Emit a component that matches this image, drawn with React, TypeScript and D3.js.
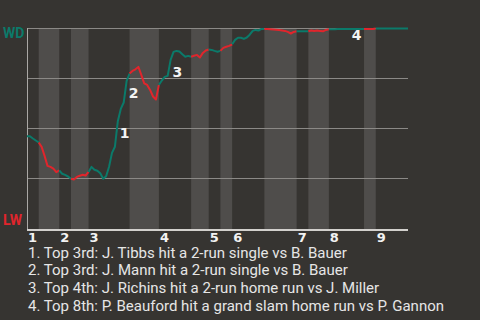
import React from "react";
import * as d3 from "d3";

// Plate appearances in each half-inning (top 1st, bottom 1st, ... top 9th)
const halfInningPlays = [4, 7, 4, 6, 14, 10, 11, 6, 4, 4, 11, 11, 4, 7, 12, 4, 11];

// Win probability for WD after each play (0 = LW wins, 1 = WD wins)
const winProb = [
  0.461, 0.461, 0.45, 0.44, 0.43, 0.408, 0.363, 0.313, 0.308, 0.299,
  0.282, 0.29, 0.274, 0.268, 0.26, 0.249, 0.245, 0.258, 0.264, 0.269,
  0.265, 0.283, 0.308, 0.294, 0.289, 0.276, 0.249, 0.261, 0.309, 0.378,
  0.409, 0.538, 0.598, 0.63, 0.738, 0.775, 0.788, 0.796, 0.808, 0.768,
  0.726, 0.718, 0.693, 0.66, 0.645, 0.718, 0.74, 0.758, 0.763, 0.843,
  0.883, 0.888, 0.885, 0.871, 0.859, 0.863, 0.859, 0.864, 0.868, 0.855,
  0.878, 0.89, 0.895, 0.893, 0.888, 0.884, 0.888, 0.903, 0.909, 0.913,
  0.921, 0.943, 0.954, 0.954, 0.948, 0.955, 0.969, 0.988, 0.993, 0.99,
  0.998, 0.998, 0.997, 0.996, 0.995, 0.994, 0.992, 0.99, 0.988, 0.983,
  0.975, 0.983, 0.986, 0.986, 0.986, 0.986, 0.986, 0.99, 0.988, 0.99,
  0.988, 0.986, 0.993, 0.996, 0.996, 0.996, 0.998, 0.998, 0.998, 0.998,
  0.998, 0.998, 0.998, 0.998, 0.998, 0.997, 0.997, 0.997, 0.997, 1.0,
  1.0, 1.0, 1.0, 1.0, 1.0, 1.0, 1.0, 1.0, 1.0, 1.0, 1.0,
];

const inningLabels = ["1", "2", "3", "4", "5", "6", "7", "8", "9"];

// Key plays, marked on the line by number
const keyPlayIndex = [31, 34, 49, 106];
const keyPlayMarks = ["1", "2", "3", "4"];
const keyPlayNotes = [
  "1. Top 3rd: J. Tibbs hit a 2-run single vs B. Bauer",
  "2. Top 3rd: J. Mann hit a 2-run single vs B. Bauer",
  "3. Top 4th: J. Richins hit a 2-run home run vs J. Miller",
  "4. Top 8th: P. Beauford hit a grand slam home run vs P. Gannon",
];

const gridTicks = [0.25, 0.5, 0.75, 1];

const W = 480;
const H = 320;
const BG = "#363431";
const BAND = "#4f4d4b";
const TEAL = "#0b7a6a";
const RED = "#e0252c";

// label offsets (px) from each key play's point
const markOffsets = [
  [2, 17.5],
  [2, 17.5],
  [2, 17.5],
  [14, 11.5],
];

export default function App() {
  const totalPlays = d3.sum(halfInningPlays);
  const x = d3.scaleLinear().domain([0, totalPlays]).range([27, 408]);
  const y = d3.scaleLinear().domain([0, 1]).range([228.5, 28.5]);

  const bounds = [0, ...d3.cumsum(halfInningPlays)];
  const halves = halfInningPlays.map((_, h) => ({
    h,
    start: bounds[h],
    end: bounds[h + 1],
  }));

  const segLine = d3
    .line<{ v: number; i: number }>()
    .x((p) => x(p.i))
    .y((p) => y(p.v));

  // one path per half-inning so each can take its batting team's colour
  const segments = halves.map(({ h, start, end }) => {
    const pts = winProb
      .map((v, i) => ({ v, i }))
      .filter((p) => p.i >= start && p.i <= end);
    return { h, path: segLine(pts) };
  });

  const plotTop = 28;
  const plotBottom = 229;

  return (
    <div style={{ position: "fixed", left: 0, top: 0, width: W, height: H, background: BG }}>
      <svg width={W} height={H} style={{ display: "block" }}>
        <rect x={0} y={0} width={W} height={H} fill={BG} />
        {halves
          .filter((d) => d.h % 2 === 1)
          .map((d) => (
            <rect
              key={d.h}
              x={x(d.start)}
              y={plotTop}
              width={x(d.end) - x(d.start)}
              height={plotBottom - plotTop}
              fill={BAND}
            />
          ))}
        {gridTicks.map((t) => (
          <line
            key={t}
            x1={27}
            x2={408}
            y1={Math.round(y(t)) - 0.5}
            y2={Math.round(y(t)) - 0.5}
            stroke="#8b8986"
            strokeWidth={1}
          />
        ))}
        <line x1={27.5} x2={27.5} y1={plotTop} y2={plotBottom} stroke="#aaa8a5" strokeWidth={1} />
        <line x1={27} x2={408} y1={230} y2={230} stroke="#d2d0cd" strokeWidth={2} />

        {segments.map((s) => (
          <path
            key={s.h}
            d={s.path || ""}
            fill="none"
            stroke={s.h % 2 === 0 ? TEAL : RED}
            strokeWidth={2}
            strokeLinejoin="round"
            strokeLinecap="butt"
          />
        ))}

        {keyPlayIndex.map((idx, k) => (
          <text
            key={k}
            x={x(idx) + markOffsets[k][0]}
            y={y(winProb[idx]) + markOffsets[k][1]}
            fill="#f4f4f4"
            fontFamily="DejaVu Sans"
            fontWeight="bold"
            fontSize={14}
          >
            {keyPlayMarks[k]}
          </text>
        ))}

        <text x={3} y={38.3} fill={TEAL} fontFamily="Roboto" fontWeight="bold" fontSize={14}>
          WD
        </text>
        <text x={3} y={225} fill={RED} fontFamily="Roboto" fontWeight="bold" fontSize={14}>
          LW
        </text>

        {inningLabels.map((lab, k) => (
          <text
            key={lab}
            x={x(bounds[k * 2]) + 1}
            y={242}
            fill="#f2f2f2"
            fontFamily="DejaVu Sans"
            fontWeight="bold"
            fontSize={13}
          >
            {lab}
          </text>
        ))}

        {keyPlayNotes.map((note, k) => (
          <text
            key={k}
            x={28}
            y={257.5 + k * 17.7}
            fill="#e6e6e6"
            fontFamily="Roboto"
            fontSize={15}
          >
            {note}
          </text>
        ))}
      </svg>
    </div>
  );
}
